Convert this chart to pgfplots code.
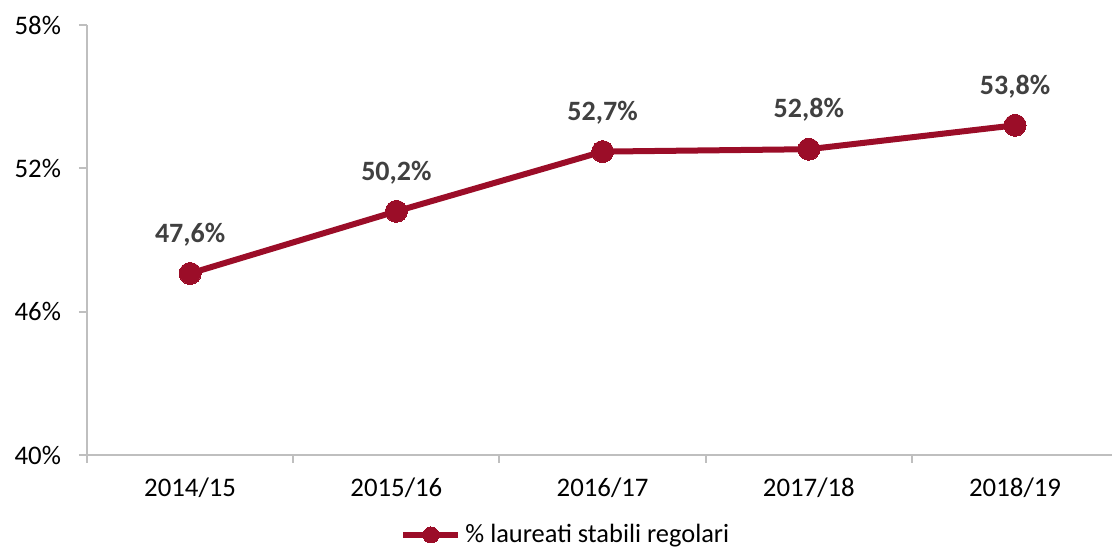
\documentclass[border=0pt]{standalone}
\usepackage{pgfplots}
\pgfplotsset{compat=1.18}
\usepackage{fontspec}
\setmainfont{Carlito}
\definecolor{lred}{HTML}{9B0D28}
\definecolor{axgray}{HTML}{BFBFBF}
\definecolor{lblgray}{HTML}{404040}
\begin{document}
\begin{tikzpicture}
\path[use as bounding box] (-43.5pt,-47pt) rectangle (512.5pt,227.5pt);
\begin{axis}[
  scale only axis,
  width=512.5pt, height=215pt,
  xmin=-0.5, xmax=4.47,
  ymin=40, ymax=58,
  axis x line*=bottom, axis y line*=left,
  axis line style={axgray, line width=1pt},
  xtick={0,1,2,3,4},
  xticklabels={2014/15,2015/16,2016/17,2017/18,2018/19},
  minor xtick={-0.5,0.5,1.5,2.5,3.5},
  major x tick style={draw=none},
  minor x tick style={axgray, line width=1pt},
  minor tick length=4pt,
  major tick length=4pt,
  tick align=outside,
  ytick={40,46,52,58},
  yticklabels={40\%,46\%,52\%,58\%},
  ytick style={axgray, line width=1pt},
  ticklabel style={font=\fontsize{13.4}{15}\selectfont, text=black},
  xticklabel style={yshift=-4pt},
  yticklabel style={xshift=-5.5pt},
  clip=false,
  legend style={draw=none, at={(0.3054,-0.186)}, anchor=west, font=\fontsize{13.2}{15}\selectfont, inner xsep=0pt},
  legend image code/.code={\draw[mark repeat=2,mark phase=2, mark size=4pt] plot coordinates {(0pt,0pt)(13.75pt,0pt)(27.5pt,0pt)};},
]
\addplot[lred, line width=3pt, mark=*, mark size=5.5pt, mark options={fill=lred, draw=lred, line width=0pt},
  point meta=explicit symbolic,
  nodes near coords,
  nodes near coords style={font=\bfseries\fontsize{14}{16}\selectfont, text=lblgray, anchor=center, yshift=19.5pt}]
coordinates {
(0,47.6) [47,6\%]
(1,50.2) [50,2\%]
(2,52.7) [52,7\%]
(3,52.8) [52,8\%]
(4,53.8) [53,8\%]
};
\addlegendentry{\% laureati stabili regolari}
\end{axis}
\end{tikzpicture}
\end{document}
